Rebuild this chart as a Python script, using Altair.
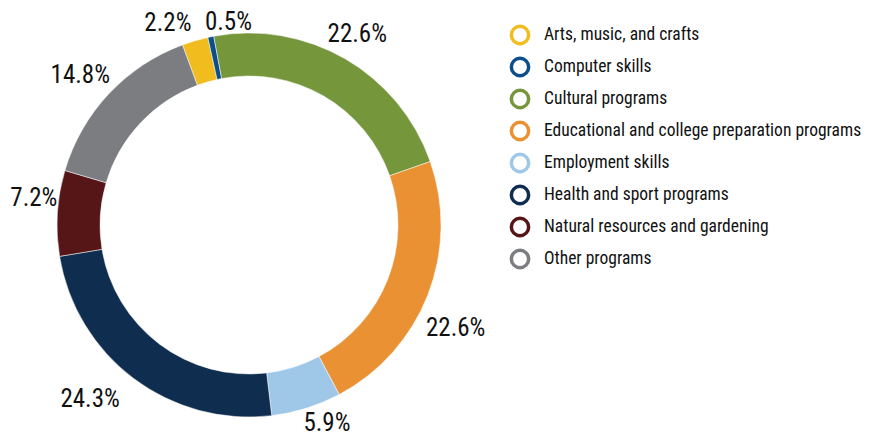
import math
import json
import altair as alt
import pandas as pd

categories = [
    "Arts, music, and crafts",
    "Computer skills",
    "Cultural programs",
    "Educational and college preparation programs",
    "Employment skills",
    "Health and sport programs",
    "Natural resources and gardening",
    "Other programs",
]
values = [2.2, 0.5, 22.6, 22.6, 5.9, 24.3, 7.2, 14.8]
colors = ["#F0BC1E", "#0B4F8A", "#76963C", "#E99133", "#9FC8E8", "#0E2D4F", "#561516", "#7C7D80"]

df = pd.DataFrame({"category": categories, "value": values, "order": list(range(len(categories)))})
df["label"] = [f"{v}%" for v in values]

FONT = "Roboto Condensed"
START = -0.354          # start angle of the first slice (radians, clockwise from 12 o'clock)
OUTER, INNER = 192, 149
CX, CY = 241, 217       # donut centre inside the view
LEG_SYM_X, LEG_TXT_X = 512, 536
LEG_TOP, LEG_BOTTOM = 27, 251

# small label nudges (collision avoidance / spreading like the original layout)
NUDGE_X = {"Arts, music, and crafts": -22, "Computer skills": 21, "Employment skills": 15,
           "Health and sport programs": -28, "Other programs": -8}
NUDGE_Y = {"Cultural programs": -4, "Educational and college preparation programs": 22,
           "Natural resources and gardening": -14, "Employment skills": -3, "Computer skills": 2}


def nudge_expr(d):
    parts = [f"datum.category == {json.dumps(k)} ? {v} : " for k, v in d.items()]
    return "".join(parts) + "0"


theta_scale = alt.Scale(range=[START, START + 2 * math.pi])
cat_scale = alt.Scale(domain=categories, range=colors)
leg_y = alt.Y("category:N", axis=None, sort=categories,
              scale=alt.Scale(domain=categories, range=[LEG_TOP, LEG_BOTTOM], type="point", padding=0))

chart_base = alt.Chart(df)

arcs = chart_base.mark_arc(
    x=CX, y=CY, outerRadius=OUTER, innerRadius=INNER, stroke="white", strokeWidth=0.5
).encode(
    theta=alt.Theta("value:Q", stack=True, scale=theta_scale),
    order=alt.Order("order:Q"),
    fill=alt.Fill("category:N", scale=cat_scale, legend=None),
)

# label placement: distance from the ring grows with the label's half width / half height
labels = chart_base.transform_joinaggregate(
    total="sum(value)"
).transform_window(
    cum="sum(value)", sort=[alt.SortField("order")], frame=[None, 0]
).transform_calculate(
    ang=f"{START} + 2*PI*(datum.cum - datum.value/2)/datum.total",
    r=f"{OUTER + 3} + 5*length(datum.label)*abs(sin(datum.ang)) + 10*abs(cos(datum.ang))",
).mark_text(
    x=CX, y=CY, font=FONT, fontSize=25, color="#111111",
    align="center", baseline="middle",
    dx=alt.expr(nudge_expr(NUDGE_X)),
    dy=alt.expr(nudge_expr(NUDGE_Y)),
).encode(
    text="label:N",
    theta=alt.Theta("ang:Q", scale=None),
    radius=alt.Radius("r:Q", scale=None),
)

leg_symbols = chart_base.mark_point(
    shape="circle", filled=False, size=300, strokeWidth=3.5, opacity=1
).encode(
    x=alt.value(LEG_SYM_X),
    y=leg_y,
    stroke=alt.Stroke("category:N", scale=cat_scale, legend=None),
)

leg_text = chart_base.mark_text(
    align="left", baseline="middle", font=FONT, fontSize=17.5, color="#111111"
).encode(
    x=alt.value(LEG_TXT_X),
    y=leg_y,
    text="category:N",
)

chart = alt.layer(arcs, labels, leg_symbols, leg_text).properties(
    width=857, height=427, padding=0, autosize="none"
).configure_view(stroke=None)

chart.save("out.html", embed_options={"renderer": "svg", "actions": False})
